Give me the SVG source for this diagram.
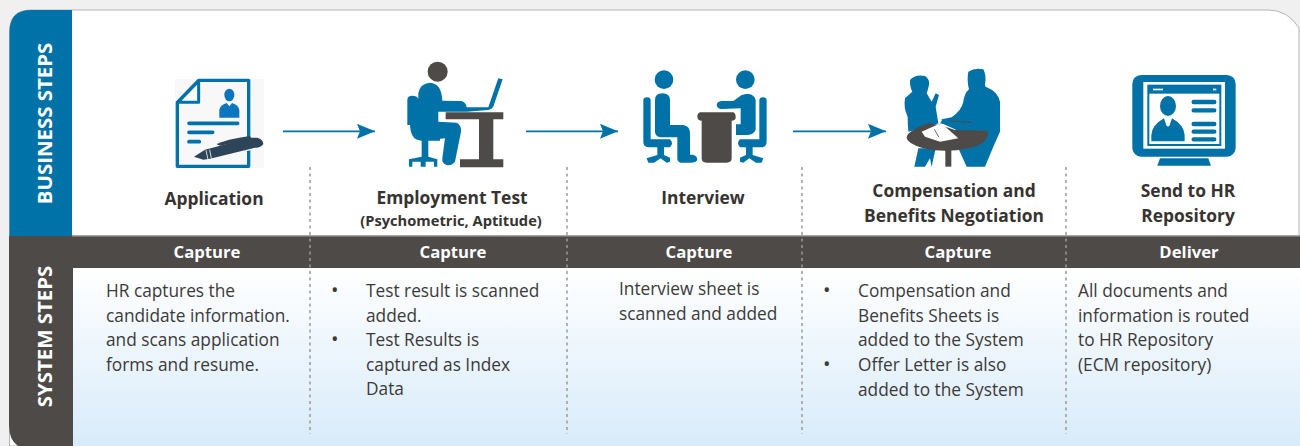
<svg xmlns="http://www.w3.org/2000/svg" width="1300" height="446" viewBox="0 0 1300 446">
<style>
text{font-family:"Open Sans","Noto Sans","DejaVu Sans",sans-serif}
.t{font-weight:700;font-size:17.4px;fill:#363331;text-anchor:middle}
.s{font-weight:700;font-size:14.700px;fill:#363331;text-anchor:middle}
.h{font-weight:700;font-size:16.700px;fill:#fff;text-anchor:middle}
.b{font-size:17.300px;fill:#3c3a39}
.d{font-size:20px;fill:#3c3a39}
.v{font-weight:700;font-size:20.400px;fill:#fff;text-anchor:middle}
.blue{fill:#0072a8}
.dark{fill:#4d4a48}
.div{stroke:#9a9a9a;stroke-width:1.5;stroke-dasharray:3 3.5;fill:none}
.arr{stroke:#0072a8;stroke-width:1.8;fill:none;marker-end:url(#ah)}
</style>
<defs>
<marker id="ah" markerUnits="userSpaceOnUse" markerWidth="19" markerHeight="16" refX="18" refY="7.5" orient="auto"><path d="M0 0L18 7.5L0 15L3 7.5Z" fill="#0072a8"/></marker>
<linearGradient id="g" x1="0" y1="0" x2="0" y2="1"><stop offset="0" stop-color="#fff"/><stop offset="1" stop-color="#d8ebfa"/></linearGradient>
</defs>
<rect width="1300" height="446" fill="#f0f0f0"/>
<g id="panel">
<path d="M9.500 446V32Q9.500 10 31 10H1268Q1288 10 1299 28V446Z" fill="#fff" stroke="#b5b5b5" stroke-width="1"/>
<path d="M9.500 236V32Q9.500 10 31 10H72V236Z" class="blue"/>
<path d="M9 236H1300V268H73V446H18Q9 440 9 425Z" class="dark"/>
<rect x="72" y="235" width="1228" height="1.500" fill="#a5a5a5"/>
<rect x="73" y="268" width="1227" height="178" fill="url(#g)"/>
<text class="v" transform="translate(52 123.500) rotate(-90)">BUSINESS STEPS</text>
<text class="v" transform="translate(52 336.500) rotate(-90)">SYSTEM STEPS</text>
</g>
<g id="dividers">
<path class="div" d="M310 167V434M567 167V434M802 167V434M1066 167V434"/>
</g>
<g id="connectors">
<path class="arr" d="M283 131.300H375"/>
<path class="arr" d="M526 131.300H618"/>
<path class="arr" d="M793 131.300H886"/>
</g>
<g id="application">
<rect x="175" y="79" width="89" height="89" fill="#f8f8f8"/>
<g transform="translate(170 75) scale(.3333)">
<path d="M22 82L86 16H236V274H22Z" fill="#f8f8f8" stroke="#0072a8" stroke-width="10" stroke-linejoin="round"/>
<path d="M24 82L86 18V82Z" fill="#fff" stroke="#0072a8" stroke-width="9" stroke-linejoin="round"/>
<ellipse cx="178" cy="60" rx="15" ry="19" fill="#0b76bf"/>
<path d="M148 128V105Q150 90 170 84L178 94L186 84Q206 90 208 105V128Z" fill="#0b76bf"/>
<path d="M57 145H203M57 172H128M57 200H88" stroke="#0072a8" stroke-width="11" stroke-linecap="round"/>
<path d="M100 225L245 186V225L100 258Z" fill="#f8f8f8"/>
<path d="M72 245L105 224L240 188L262 188Q280 193 280 207Q270 220 255 218L120 251L100 254Z" fill="#2e4559"/>
<path d="M140 208Q160 195 240 183L245 192L150 212Z" fill="#2e4559"/>
<path d="M108 226L114 253M119 224L124 250" stroke="#f8f8f8" stroke-width="2.500"/>
</g>
<text class="t" x="214" y="205">Application</text>
</g>
<g id="employment-test">
<g transform="translate(280 50) scale(.3333)">
<ellipse class="dark" cx="473" cy="65" rx="30" ry="30"/>
<path class="blue" d="M415 130Q420 100 450 98Q485 100 487 152L545 153Q558 157 560 172L625 172L655 85L668 88L640 170Q635 178 625 180L560 185H475V215L530 218Q545 225 543 245L525 335Q515 348 500 345Q485 340 487 325L495 265L430 272Q415 260 415 240Z"/>
<path class="blue" d="M382 150Q382 137 397 137Q412 137 418 150V225H382Z"/>
<path class="blue" d="M390 220H430V262H480V272H445V320L472 328V350H462V335H437V350H422V335H397V350H387V328L425 320V272Q390 272 390 220Z"/>
<path class="dark" d="M497 187H670V208H640V328H670V352H540V328H597V208H497Z"/>
</g>
<text class="t" x="452" y="204">Employment Test</text>
<text class="s" x="451" y="226">(Psychometric, Aptitude)</text>
</g>
<g id="interview">
<g transform="translate(620 50) scale(.3333)">
<circle class="blue" cx="132" cy="89" r="28"/>
<path class="blue" d="M105 150Q105 130 127 130Q150 130 150 150V225H190Q210 228 210 250V314H218Q232 318 232 328Q230 338 215 338H182Q172 336 172 325V262H120Q105 258 105 245Z"/>
<path class="blue" d="M70 152Q70 142 81 142Q92 142 92 152V268H150Q162 280 150 292H132V315L150 323V335L140 338L122 325L102 338H85L80 325L112 315V292H85Q70 290 70 275Z"/>
<path class="dark" d="M240 187H340Q348 190 347 205Q345 212 335 212V325Q335 338 320 338H260Q245 338 245 325V212Q233 212 232 200Q232 190 240 187Z"/>
<circle class="blue" cx="376" cy="89" r="28"/>
<path class="blue" d="M290 165Q290 155 305 153H340L365 135Q400 125 407 150V240Q400 255 380 255H348V223H362V175L305 177Q292 177 290 165Z"/>
<path class="blue" d="M440 152Q440 142 429 142Q418 142 418 152V268H360Q348 280 360 292H378V315L360 323V335L370 338L388 325L408 338H425L430 325L398 315V292H425Q440 290 440 275Z"/>
</g>
<text class="t" x="703" y="204">Interview</text>
</g>
<g id="negotiation">
<g transform="translate(895 60) scale(.3333)">
<path class="blue" d="M45 60Q60 42 90 48Q105 58 102 75Q98 92 95 100L110 125L122 100L132 105L122 140L130 190L100 200L40 215Q38 195 38 170Q25 145 30 115Q40 105 52 95Q44 80 45 60Z"/>
<path class="blue" d="M70 265L58 320H90L105 295L110 320L122 265Z"/>
<path class="blue" d="M220 35Q240 22 265 28Q275 45 270 75L272 80Q310 95 315 125V215L295 260L270 320H215L190 265V210H185L140 190V178L170 172Q200 150 205 125Q208 100 222 88Q215 60 220 35Z"/>
<path class="dark" d="M35 232Q38 212 100 190L135 195L180 210L278 212Q285 250 220 265Q150 280 85 265Q35 250 35 232Z"/>
<rect class="dark" x="151" y="268" width="18" height="52"/>
<path fill="#fff" d="M80 215L125 195H145L190 235L135 245L90 230Z"/>
<path d="M118 208L132 232" stroke="#4d4a48" stroke-width="2.500"/>
<path class="blue" d="M135 190Q140 178 165 178L225 185L190 192L188 212L165 195Z"/>
<path d="M165 183L228 187" stroke="#4d4a48" stroke-width="3"/>
</g>
<text class="t" x="954" y="197">Compensation and</text>
<text class="t" x="954" y="222">Benefits Negotiation</text>
</g>
<g id="repository">
<g transform="translate(1040 0) scale(.3333)">
<rect class="blue" x="277" y="225" width="310" height="245" rx="26"/>
<rect x="310" y="246" width="245" height="200" fill="#fff"/>
<rect x="325" y="257" width="216" height="178" fill="none" stroke="#0072a8" stroke-width="6"/>
<rect class="blue" x="325" y="257" width="216" height="24"/>
<rect x="339" y="266" width="30" height="5" fill="#fff"/><rect x="519" y="266" width="10" height="5" fill="#fff"/>
<ellipse class="blue" cx="384" cy="318" rx="24" ry="30"/>
<path class="blue" d="M334 424V405Q336 375 372 355L380 378H388L396 355Q432 375 434 405V424Z"/>
<path d="M379 360L384 380L389 360" fill="none" stroke="#fff" stroke-width="2"/>
<path d="M461 306H523M461 331H523M461 372H523M461 395H523M461 418H523" stroke="#0072a8" stroke-width="13" stroke-linecap="round"/>
<path class="blue" d="M360 475H505L513 497H352Z"/>
</g>
<text class="t" x="1188" y="197">Send to HR</text>
<text class="t" x="1188" y="222">Repository</text>
</g>
<g id="system-1">
<text class="h" x="207" y="258">Capture</text>
<text class="b"><tspan x="106" y="297">HR captures the</tspan><tspan x="106" y="321.500">candidate information.</tspan><tspan x="106" y="346">and scans application</tspan><tspan x="106" y="370.500">forms and resume.</tspan></text>
</g>
<g id="system-2">
<text class="h" x="453" y="258">Capture</text>
<text class="d" x="331" y="297">•</text><text class="d" x="331" y="346">•</text>
<text class="b"><tspan x="366" y="297">Test result is scanned</tspan><tspan x="366" y="321.500">added.</tspan><tspan x="366" y="346">Test Results is</tspan><tspan x="366" y="370.500">captured as Index</tspan><tspan x="366" y="395">Data</tspan></text>
</g>
<g id="system-3">
<text class="h" x="699" y="258">Capture</text>
<text class="b"><tspan x="619" y="295">Interview sheet is</tspan><tspan x="619" y="320">scanned and added</tspan></text>
</g>
<g id="system-4">
<text class="h" x="958" y="258">Capture</text>
<text class="d" x="823" y="297">•</text><text class="d" x="823" y="371">•</text>
<text class="b"><tspan x="858" y="297">Compensation and</tspan><tspan x="858" y="321.500">Benefits Sheets is</tspan><tspan x="858" y="346">added to the System</tspan><tspan x="858" y="371">Offer Letter is also</tspan><tspan x="858" y="395.500">added to the System</tspan></text>
</g>
<g id="system-5">
<text class="h" x="1189" y="258">Deliver</text>
<text class="b"><tspan x="1078" y="297">All documents and</tspan><tspan x="1078" y="321.500">information is routed</tspan><tspan x="1078" y="346">to HR Repository</tspan><tspan x="1078" y="370.500">(ECM repository)</tspan></text>
</g>
</svg>
